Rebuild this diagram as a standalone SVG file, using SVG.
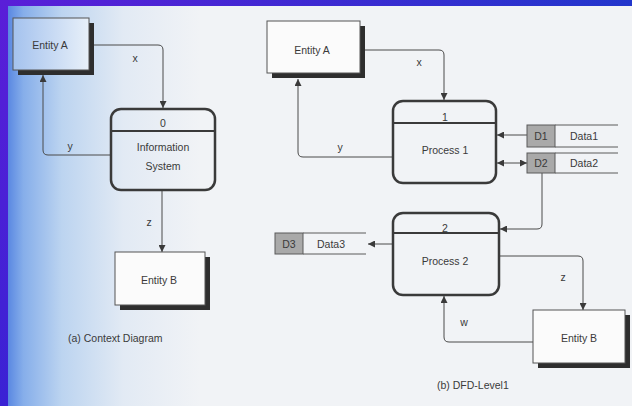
<svg xmlns="http://www.w3.org/2000/svg" width="632" height="406" viewBox="0 0 632 406">
  <defs>
    <linearGradient id="paperTint" gradientUnits="userSpaceOnUse" x1="8" y1="0" x2="200" y2="0">
      <stop offset="0" stop-color="#5a88e2"/>
      <stop offset="0.08" stop-color="#86aeea"/>
      <stop offset="0.28" stop-color="#bcd4f0"/>
      <stop offset="0.6" stop-color="#e2eaf4"/>
      <stop offset="1" stop-color="#f1f3f6"/>
    </linearGradient>
    <linearGradient id="entTint" gradientUnits="userSpaceOnUse" x1="13" y1="0" x2="89" y2="0">
      <stop offset="0" stop-color="#a4c2ee"/>
      <stop offset="1" stop-color="#e8f0f9"/>
    </linearGradient>
    <linearGradient id="topBar" x1="0" y1="0" x2="1" y2="0">
      <stop offset="0" stop-color="#5a1ed8"/>
      <stop offset="1" stop-color="#2236cc"/>
    </linearGradient>
    <linearGradient id="leftBar" x1="0" y1="0" x2="0" y2="1">
      <stop offset="0" stop-color="#5a1ed8"/>
      <stop offset="1" stop-color="#3a22d4"/>
    </linearGradient>
    <marker id="arrow" viewBox="0 0 10 10" refX="10" refY="5" markerWidth="7" markerHeight="7" markerUnits="userSpaceOnUse" orient="auto-start-reverse">
      <path d="M0,0 L10,5 L0,10 Z" fill="#3a3a3a"/>
    </marker>
    <style>
      text { font-family: "Liberation Sans", Arial, sans-serif; font-size: 10.5px; fill: #3a3a3a; }
      .mid { text-anchor: middle; }
      .flow { fill: none; stroke: #4a4a4a; stroke-width: 1; }
      .ent { fill: #fbfbfb; stroke: #555; stroke-width: 1; }
      .shadow { fill: #2e2e2e; }
      .proc { fill: none; stroke: #3a3a3a; stroke-width: 2.5; }
      .div { stroke: #3a3a3a; stroke-width: 2; }
      .sid { fill: #a9a9a9; stroke: #5a5a5a; stroke-width: 1; }
      .sline { stroke: #5a5a5a; stroke-width: 1; }
    </style>
  </defs>

  <!-- page, with a blue cast along its left edge -->
  <rect x="0" y="0" width="632" height="406" fill="#f1f3f6"/>
  <rect x="8" y="0" width="192" height="406" fill="url(#paperTint)"/>

  <!-- connectors -->
  <g id="connectors">
    <!-- context diagram -->
    <path class="flow" d="M89,45 H158 Q163,45 163,50 V108" marker-end="url(#arrow)"/>
    <path class="flow" d="M111,155 H48 Q43,155 43,150 V75" marker-end="url(#arrow)"/>
    <path class="flow" d="M162,191 V252" marker-end="url(#arrow)"/>
    <!-- level 1 -->
    <path class="flow" d="M360,50 H439 Q444,50 444,55 V100" marker-end="url(#arrow)"/>
    <path class="flow" d="M392,157 H303 Q298,157 298,152 V79" marker-end="url(#arrow)"/>
    <path class="flow" d="M527,135 H497" marker-end="url(#arrow)"/>
    <path class="flow" d="M497,163 H527" marker-start="url(#arrow)" marker-end="url(#arrow)"/>
    <path class="flow" d="M542,173 V224 Q542,229 537,229 H500" marker-end="url(#arrow)"/>
    <path class="flow" d="M392,244 H368" marker-end="url(#arrow)"/>
    <path class="flow" d="M500,256 H578 Q583,256 583,261 V310" marker-end="url(#arrow)"/>
    <path class="flow" d="M533,342 H449 Q444,342 444,337 V296" marker-end="url(#arrow)"/>
    <!-- flow labels -->
    <text class="mid" x="135" y="62">x</text>
    <text class="mid" x="70" y="150">y</text>
    <text class="mid" x="149" y="226">z</text>
    <text class="mid" x="419" y="66">x</text>
    <text class="mid" x="340" y="151">y</text>
    <text class="mid" x="563" y="281">z</text>
    <text class="mid" x="464" y="326">w</text>
  </g>

  <!-- context diagram nodes -->
  <g id="ctx-entity-a">
    <rect class="shadow" x="18" y="23" width="76" height="52"/>
    <rect class="ent" x="13" y="18" width="76" height="52" style="fill:url(#entTint)"/>
    <text class="mid" x="50" y="49">Entity A</text>
  </g>
  <g id="ctx-process-0">
    <rect class="proc" x="111" y="109" width="104" height="81" rx="10"/>
    <line class="div" x1="111" y1="131" x2="215" y2="131"/>
    <text class="mid" x="163" y="127">0</text>
    <text class="mid" x="163" y="151">Information</text>
    <text class="mid" x="163" y="170">System</text>
  </g>
  <g id="ctx-entity-b">
    <rect class="shadow" x="120" y="257" width="90" height="53"/>
    <rect class="ent" x="115" y="252" width="90" height="53"/>
    <text class="mid" x="159" y="284">Entity B</text>
  </g>
  <text x="68" y="342">(a)  Context Diagram</text>

  <!-- level 1 nodes -->
  <g id="l1-entity-a">
    <rect class="shadow" x="272" y="26" width="93" height="52"/>
    <rect class="ent" x="267" y="21" width="93" height="52"/>
    <text class="mid" x="312" y="54">Entity A</text>
  </g>
  <g id="l1-process-1">
    <rect class="proc" x="393" y="101" width="103" height="82" rx="10"/>
    <line class="div" x1="393" y1="123" x2="496" y2="123"/>
    <text class="mid" x="445" y="121">1</text>
    <text class="mid" x="445" y="154">Process 1</text>
  </g>
  <g id="l1-store-d1">
    <rect class="sid" x="527" y="125" width="28" height="22"/>
    <line class="sline" x1="555" y1="125" x2="618" y2="125"/>
    <line class="sline" x1="555" y1="147" x2="618" y2="147"/>
    <text class="mid" x="541" y="140">D1</text>
    <text x="570" y="140">Data1</text>
  </g>
  <g id="l1-store-d2">
    <rect class="sid" x="527" y="153" width="28" height="20"/>
    <line class="sline" x1="555" y1="153" x2="618" y2="153"/>
    <line class="sline" x1="555" y1="173" x2="618" y2="173"/>
    <text class="mid" x="541" y="167">D2</text>
    <text x="570" y="167">Data2</text>
  </g>
  <g id="l1-process-2">
    <rect class="proc" x="393" y="213" width="106" height="82" rx="10"/>
    <line class="div" x1="393" y1="233" x2="499" y2="233"/>
    <text class="mid" x="445" y="232">2</text>
    <text class="mid" x="445" y="265">Process 2</text>
  </g>
  <g id="l1-store-d3">
    <rect class="sid" x="275" y="233" width="28" height="21"/>
    <line class="sline" x1="303" y1="233" x2="366" y2="233"/>
    <line class="sline" x1="303" y1="254" x2="366" y2="254"/>
    <text class="mid" x="289" y="248">D3</text>
    <text x="317" y="248">Data3</text>
  </g>
  <g id="l1-entity-b">
    <rect class="shadow" x="538" y="315" width="92" height="53"/>
    <rect class="ent" x="533" y="310" width="92" height="53"/>
    <text class="mid" x="579" y="342">Entity B</text>
  </g>
  <text x="437" y="389">(b)  DFD-Level1</text>

  <!-- frame -->
  <rect x="0" y="0" width="632" height="6" fill="url(#topBar)"/>
  <rect x="0" y="0" width="8" height="406" fill="url(#leftBar)"/>
</svg>
